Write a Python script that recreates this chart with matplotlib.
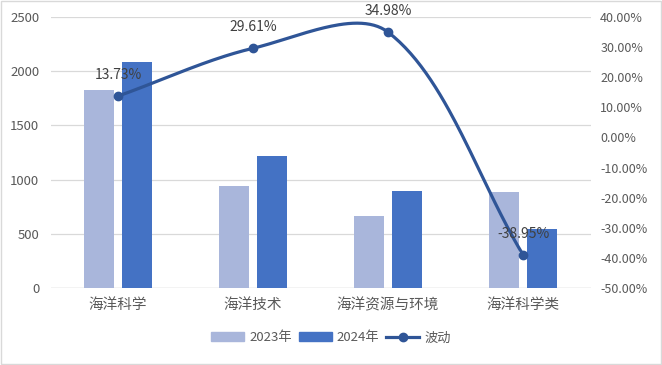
import numpy as np
import matplotlib
matplotlib.use("Agg")
import matplotlib.pyplot as plt
from matplotlib.lines import Line2D
from matplotlib.patches import Patch

plt.rcParams['font.family'] = ['Noto Sans CJK SC', 'DejaVu Sans']

# data
categories = ['海洋科学', '海洋技术', '海洋资源与环境', '海洋科学类']
values_2023 = [1830, 940, 665, 885]
values_2024 = [2081, 1218, 898, 540]
change_pct = [13.73, 29.61, 34.98, -38.95]

left_ticks = [0, 500, 1000, 1500, 2000, 2500]
right_ticks = [-50, -40, -30, -20, -10, 0, 10, 20, 30, 40]

C_2023 = '#A9B6DB'
C_2024 = '#4472C4'
C_LINE = '#2F5597'
C_TEXT = '#595959'
C_GRID = '#D9D9D9'

W, H = 662, 365
fig = plt.figure(figsize=(W / 100, H / 100), dpi=100)
ax = fig.add_axes([50.5 / W, 77 / H, 540 / W, 271 / H])
ax2 = ax.twinx()

x = np.arange(len(categories))
bw = 0.225
ax.bar(x - 0.14, values_2023, bw, color=C_2023, zorder=2)
ax.bar(x + 0.14, values_2024, bw, color=C_2024, zorder=2)

ax.set_xlim(-0.5, len(categories) - 0.5)
ax.set_ylim(0, 2500)
ax.set_yticks(left_ticks)
ax.set_xticks(x)
ax.set_xticklabels(categories, fontsize=10.5)
ax.grid(axis='y', color=C_GRID, linewidth=0.9, zorder=0)
for s in list(ax.spines.values()) + list(ax2.spines.values()):
    s.set_visible(False)
ax.axhline(0, color=C_GRID, linewidth=1.0, zorder=1)
ax.tick_params(axis='both', length=0, colors=C_TEXT)
ax.tick_params(axis='y', pad=8, labelsize=9.5)
ax.tick_params(axis='x', pad=7)

ax2.set_ylim(-50, 40)
ax2.set_yticks(right_ticks)
ax2.set_yticklabels([f'{t:.2f}%' for t in right_ticks])
ax2.tick_params(axis='y', length=0, colors=C_TEXT, labelsize=9, pad=7)


# smoothed line like Excel: bezier through the points, done in pixel space,
# control arms weighted by neighbouring chord lengths
def smooth_curve(xs, ys, sx, sy, k=1 / 6, n=60):
    P = np.column_stack([np.asarray(xs, float) * sx, np.asarray(ys, float) * sy])
    m = len(P)
    d = [np.hypot(*(P[i + 1] - P[i])) for i in range(m - 1)]
    pts = []
    for i in range(m - 1):
        p1, p2 = P[i], P[i + 1]
        if i > 0:
            c1 = p1 + (p2 - P[i - 1]) * k * 2 * d[i] / (d[i - 1] + d[i])
        else:
            c1 = p1 + (p2 - p1) * 2 * k
        if i + 2 < m:
            c2 = p2 - (P[i + 2] - p1) * k * 2 * d[i] / (d[i] + d[i + 1])
        else:
            c2 = p2 - (p2 - p1) * 2 * k
        t = np.linspace(0, 1, n)[:, None]
        seg = (1 - t) ** 3 * p1 + 3 * (1 - t) ** 2 * t * c1 + 3 * (1 - t) * t ** 2 * c2 + t ** 3 * p2
        pts.append(seg)
    pts = np.vstack(pts)
    return pts[:, 0] / sx, pts[:, 1] / sy


sx = 540 / len(categories)
sy = 271 / 90
cx, cy = smooth_curve(x, change_pct, sx, sy)
ax2.plot(cx, cy, color=C_LINE, linewidth=2.3, solid_capstyle='round', zorder=3)
ax2.plot(x, change_pct, 'o', color=C_LINE, markersize=6, zorder=4)
for xi, v in zip(x, change_pct):
    ax2.annotate(f'{v:.2f}%', (xi, v), xytext=(0, 15), textcoords='offset points',
                 ha='center', va='center', color='#404040', fontsize=10, zorder=5)

handles = [Patch(color=C_2023), Patch(color=C_2024),
           Line2D([], [], color=C_LINE, linewidth=2.3, marker='o', markersize=6)]
fig.legend(handles, ['2023年', '2024年', '波动'], loc='center', bbox_to_anchor=(0.5, 0.074),
           ncol=3, frameon=False, fontsize=9.5, labelcolor=C_TEXT, handlelength=2.5,
           handleheight=0.7, columnspacing=0.5, handletextpad=0.4)

fig.patches.append(plt.Rectangle((0.002, 0.003), 0.996, 0.994, transform=fig.transFigure,
                                 fill=False, edgecolor='#D9D9D9', linewidth=1))

fig.savefig('out.png', dpi=100)
